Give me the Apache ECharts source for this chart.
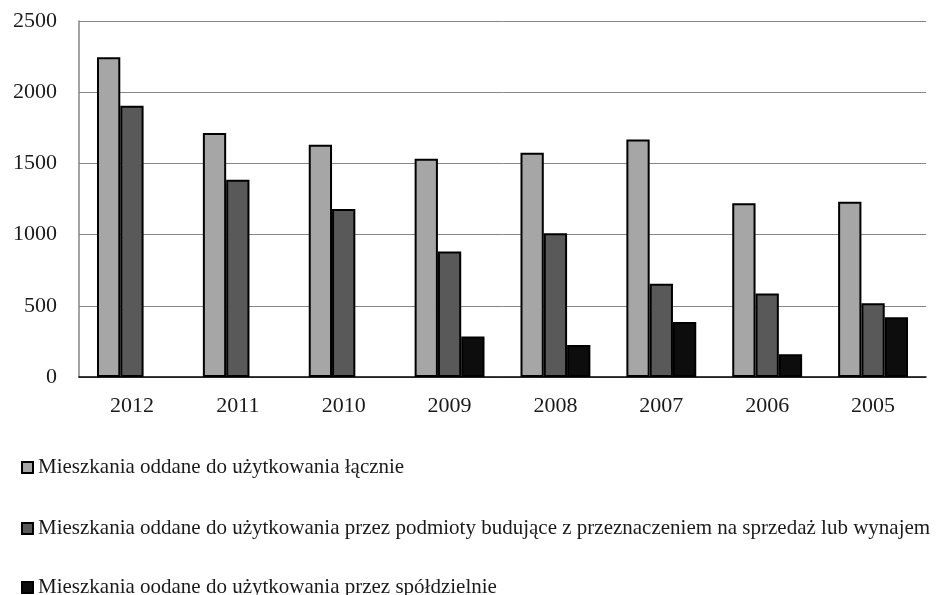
<!DOCTYPE html>
<html>
<head>
<meta charset="utf-8">
<script src="https://cdn.jsdelivr.net/npm/echarts@6/dist/echarts.min.js"></script>
<style>
  html, body { margin: 0; padding: 0; background: #fff; }
  #main { width: 940px; height: 595px; }
</style>
</head>
<body>
<div id="main"></div>
<script>
  // lata (kolejność jak na wykresie)
  var years = ['2012', '2011', '2010', '2009', '2008', '2007', '2006', '2005']
  var names = [
    'Mieszkania oddane do użytkowania łącznie',
    'Mieszkania oddane do użytkowania przez podmioty budujące z przeznaczeniem na sprzedaż lub wynajem',
    'Mieszkania oodane do użytkowania przez spółdzielnie'
  ]
  var lacznie = [2245, 1714, 1631, 1533, 1575, 1667, 1221, 1231]
  var podmioty = [1905, 1385, 1179, 881, 1010, 654, 586, 518]
  var spoldzielnie = [null, null, null, 284, 225, 387, 160, 420]
  var colors = ['#a6a6a6', '#595959', '#0d0d0d']

  var myChart = echarts.init(document.getElementById('main'))
  var font = '"Liberation Serif", "Times New Roman", serif'

  function bar(name, data, color) {
    return {
      name: name,
      type: 'bar',
      data: data,
      barGap: '0%',
      barCategoryGap: '34%',
      itemStyle: {
        color: color,
        borderColor: '#000',
        borderWidth: 2
      }
    }
  }

  // osobna legenda dla każdej serii (jedna pod drugą)
  function legend(i, top) {
    return {
      orient: 'vertical',
      left: 21,
      top: top,
      padding: 0,
      itemWidth: 11,
      itemHeight: 11,
      icon: 'rect',
      data: [names[i]],
      textStyle: { fontFamily: font, fontSize: 21, color: '#1a1a1a' }
    }
  }

  var option = {
    animation: false,
    backgroundColor: '#fff',
    grid: { left: 79, right: 14, top: 21, bottom: 218 },
    legend: [legend(0, 457), legend(1, 518), legend(2, 577)],
    xAxis: {
      type: 'category',
      data: years,
      axisLine: { lineStyle: { color: '#000', width: 1.5 } },
      axisTick: { show: false },
      axisLabel: { fontFamily: font, fontSize: 22, color: '#1a1a1a', margin: 18 }
    },
    yAxis: {
      type: 'value',
      min: 0,
      max: 2500,
      interval: 500,
      axisLine: { show: true, lineStyle: { color: '#868686', width: 1.5 } },
      axisTick: { show: false },
      splitLine: { lineStyle: { color: '#868686', width: 1 } },
      axisLabel: {
        fontFamily: font, fontSize: 22, color: '#1a1a1a', margin: 22,
        formatter: function (v) { return String(v) }
      }
    },
    series: [
      bar(names[0], lacznie, colors[0]),
      bar(names[1], podmioty, colors[1]),
      bar(names[2], spoldzielnie, colors[2])
    ]
  }

  myChart.setOption(option)
  window.addEventListener('resize', function () {
    myChart.resize()
  })
</script>
</body>
</html>
